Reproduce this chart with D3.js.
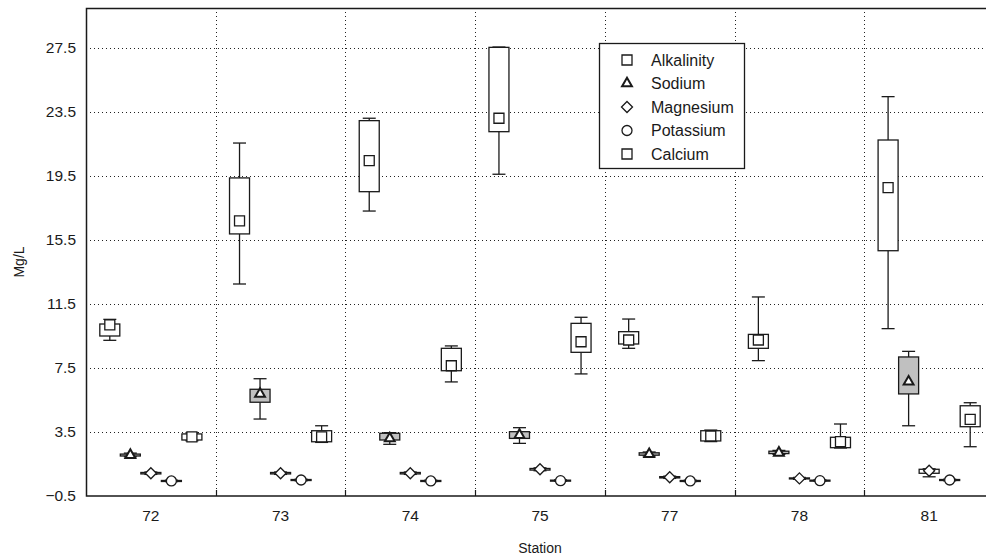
<!DOCTYPE html>
<html>
<head>
<meta charset="utf-8">
<script src="https://cdn.jsdelivr.net/npm/d3@7"></script>
<style>
  html, body { margin: 0; padding: 0; background: #fff; }
  svg { display: block; font-family: "Liberation Sans", Arial, sans-serif; }
</style>
</head>
<body>
<svg id="chart"></svg>
<script>
// stations along x, series inside each station
const stations = ["72", "73", "74", "75", "77", "78", "81"];
const seriesNames = ["Alkalinity", "Sodium", "Magnesium", "Potassium", "Calcium"];
const yTicks = [-0.5, 3.5, 7.5, 11.5, 15.5, 19.5, 23.5, 27.5];

// each row: [whisker low, box low, mean, box high, whisker high]
const alkalinity = [
  [9.23, 9.5, 10.19, 10.25, 10.54],
  [12.75, 15.88, 16.69, 19.38, 21.56],
  [17.31, 18.52, 20.46, 22.96, 23.11],
  [19.61, 22.27, 23.11, 27.54, 27.56],
  [8.73, 9.0, 9.25, 9.77, 10.56],
  [7.96, 8.73, 9.25, 9.6, 11.94],
  [9.96, 14.83, 18.77, 21.75, 24.46]
];
const sodium = [
  [1.95, 2.0, 2.06, 2.12, 2.18],
  [4.31, 5.36, 5.88, 6.17, 6.83],
  [2.73, 3.0, 3.1, 3.42, 3.46],
  [2.79, 3.1, 3.31, 3.52, 3.77],
  [2.0, 2.05, 2.12, 2.2, 2.25],
  [2.1, 2.15, 2.2, 2.3, 2.35],
  [3.89, 5.88, 6.64, 8.19, 8.54]
];
const magnesium = [
  [0.85, 0.88, 0.92, 0.97, 1.0],
  [0.85, 0.88, 0.92, 0.97, 1.0],
  [0.85, 0.88, 0.92, 0.97, 1.0],
  [1.08, 1.12, 1.17, 1.22, 1.26],
  [0.6, 0.63, 0.67, 0.71, 0.74],
  [0.54, 0.57, 0.6, 0.63, 0.66],
  [0.7, 0.92, 1.08, 1.17, 1.2]
];
const potassium = [
  [0.4, 0.42, 0.44, 0.47, 0.49],
  [0.45, 0.47, 0.5, 0.53, 0.55],
  [0.4, 0.42, 0.44, 0.47, 0.49],
  [0.42, 0.44, 0.46, 0.49, 0.51],
  [0.4, 0.42, 0.44, 0.47, 0.49],
  [0.42, 0.44, 0.46, 0.49, 0.51],
  [0.45, 0.47, 0.5, 0.53, 0.55]
];
const calcium = [
  [2.95, 3.0, 3.2, 3.38, 3.45],
  [2.85, 2.89, 3.2, 3.58, 3.89],
  [6.63, 7.33, 7.64, 8.73, 8.88],
  [7.13, 8.48, 9.14, 10.29, 10.67],
  [2.9, 2.94, 3.25, 3.58, 3.62],
  [2.5, 2.52, 2.9, 3.17, 4.0],
  [2.58, 3.83, 4.29, 5.14, 5.33]
];

const allSeries = [alkalinity, sodium, magnesium, potassium, calcium];
const markerTypes = ["square", "triangle", "diamond", "circle", "square"];
const boxFills = ["#fff", "#c0c0c0", "#fff", "#fff", "#fff"];

const width = 986;
const height = 559;
const margin = { top: 8, right: -8, bottom: 63, left: 86 };
const ink = "#1a1a1a";

const svg = d3.select("#chart").attr("width", width).attr("height", height);

const x = d3.scaleBand()
  .domain(stations)
  .range([margin.left, width - margin.right]);

const xs = d3.scalePoint()
  .domain(seriesNames)
  .range([0, x.bandwidth()])
  .padding(1.16);

const y = d3.scaleLinear()
  .domain([-0.5, 30])
  .range([height - margin.bottom, margin.top]);

// grid
const grid = svg.append("g").attr("stroke", "#222").attr("stroke-width", 1)
  .attr("stroke-dasharray", "1,3");
grid.selectAll(".hg").data(yTicks.slice(1)).join("line")
  .attr("x1", margin.left).attr("x2", width)
  .attr("y1", d => Math.round(y(d)) + 0.5).attr("y2", d => Math.round(y(d)) + 0.5);
grid.selectAll(".vg").data(stations.slice(1)).join("line")
  .attr("x1", d => Math.round(x(d)) + 0.5).attr("x2", d => Math.round(x(d)) + 0.5)
  .attr("y1", margin.top).attr("y2", y(-0.5));

// axes
const yAxis = svg.append("g")
  .attr("transform", `translate(${margin.left},0)`)
  .call(d3.axisLeft(y).tickValues(yTicks).tickFormat(d3.format(".1f")).tickSize(0).tickPadding(10));
const xAxis = svg.append("g")
  .attr("transform", `translate(0,${y(-0.5)})`)
  .call(d3.axisBottom(x).tickSize(0).tickPadding(14));
[yAxis, xAxis].forEach(a => {
  a.select(".domain").remove();
  a.selectAll("text").attr("font-size", 15.5).attr("fill", ink)
    .attr("font-family", "'Liberation Sans', Arial, sans-serif");
});

// inward ticks at band edges
svg.append("g").selectAll("line").data(stations.slice(1)).join("line")
  .attr("x1", d => Math.round(x(d)) + 0.5).attr("x2", d => Math.round(x(d)) + 0.5)
  .attr("y1", y(-0.5)).attr("y2", y(-0.5) - 6)
  .attr("stroke", ink).attr("stroke-width", 1.2);

// frame
svg.append("path")
  .attr("d", `M${width},${margin.top + 0.5}H${margin.left + 0.5}V${y(-0.5)}H${width}`)
  .attr("fill", "none").attr("stroke", ink).attr("stroke-width", 1.5);

const symbolPath = (type, size) => {
  if (type === "square") {
    return d3.symbol(d3.symbolSquare, size * size)();
  }
  if (type === "triangle") {
    return d3.symbol(d3.symbolTriangle, size * size * 0.42)();
  }
  if (type === "diamond") {
    const h = size / 2 + 0.5;
    return `M0,${-h}L${h},0L0,${h}L${-h},0Z`;
  }
  return d3.symbol(d3.symbolCircle, Math.PI * (size / 2) * (size / 2))();
};

const boxW = 20;
const capW = 13;

allSeries.forEach((rows, si) => {
  const name = seriesNames[si];
  const g = svg.append("g").attr("class", name);
  rows.forEach((r, i) => {
    const cx = x(stations[i]) + xs(name);
    const [wLo, bLo, mean, bHi, wHi] = r;
    const wg = g.append("g").attr("stroke", ink).attr("stroke-width", 1.3);
    wg.append("line").attr("x1", cx).attr("x2", cx).attr("y1", y(wHi)).attr("y2", y(bHi));
    wg.append("line").attr("x1", cx).attr("x2", cx).attr("y1", y(bLo)).attr("y2", y(wLo));
    wg.append("line").attr("x1", cx - capW / 2).attr("x2", cx + capW / 2).attr("y1", y(wHi)).attr("y2", y(wHi));
    wg.append("line").attr("x1", cx - capW / 2).attr("x2", cx + capW / 2).attr("y1", y(wLo)).attr("y2", y(wLo));
    g.append("rect")
      .attr("x", cx - boxW / 2).attr("width", boxW)
      .attr("y", y(bHi)).attr("height", Math.max(1, y(bLo) - y(bHi)))
      .attr("fill", boxFills[si]).attr("stroke", ink).attr("stroke-width", 1.3);
    g.append("path")
      .attr("d", symbolPath(markerTypes[si], 10))
      .attr("transform", `translate(${cx},${y(mean)})`)
      .attr("fill", "#fff").attr("stroke", ink)
      .attr("stroke-width", markerTypes[si] === "triangle" ? 2 : 1.3);
  });
});

// legend
const legend = svg.append("g").attr("transform", "translate(599,43)");
legend.append("rect").attr("x", 0.5).attr("y", 0.5).attr("width", 145).attr("height", 125)
  .attr("fill", "#fff").attr("stroke", ink).attr("stroke-width", 1.3);
seriesNames.forEach((name, i) => {
  const row = legend.append("g").attr("transform", `translate(0,${17 + i * 23.5})`);
  row.append("path")
    .attr("d", symbolPath(markerTypes[i], 10))
    .attr("transform", "translate(28,0)")
    .attr("fill", "#fff").attr("stroke", ink)
    .attr("stroke-width", markerTypes[i] === "triangle" ? 2 : 1.3);
  row.append("text").attr("x", 52).attr("dy", "0.35em")
    .attr("font-size", 16).attr("fill", ink).text(name);
});

// axis titles
svg.append("text")
  .attr("x", (margin.left + width - margin.right) / 2).attr("y", 553)
  .attr("text-anchor", "middle").attr("font-size", 14).attr("fill", ink)
  .text("Station");
svg.append("text")
  .attr("transform", "translate(24,262) rotate(-90)")
  .attr("text-anchor", "middle").attr("font-size", 14).attr("fill", ink)
  .text("Mg/L");
</script>
</body>
</html>
